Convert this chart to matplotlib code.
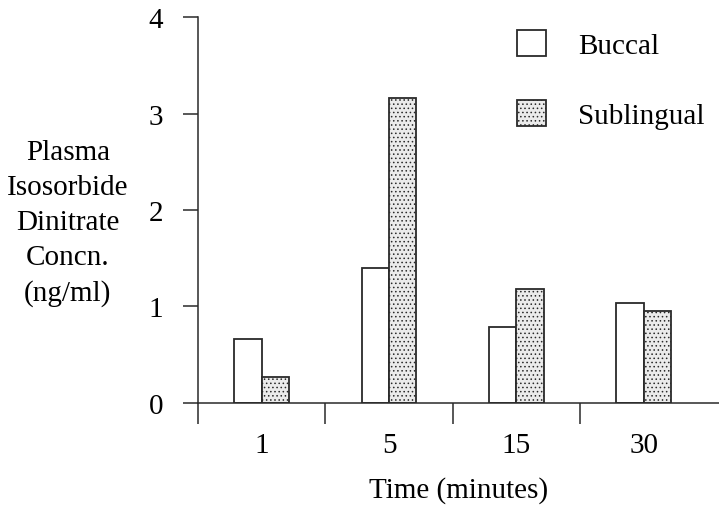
import numpy as np
import matplotlib
matplotlib.use("Agg")
from matplotlib import pyplot as plt
from matplotlib.patches import Patch

plt.rcParams['font.family'] = ['Liberation Serif', 'DejaVu Serif']
plt.rcParams['hatch.color'] = '#b8b8b8'
plt.rcParams['hatch.linewidth'] = 0.6

# Data
times = ["1", "5", "15", "30"]
buccal = [0.66, 1.40, 0.79, 1.04]
sublingual = [0.27, 3.16, 1.18, 0.95]

ink = '#2a2a2a'
fs = 21
fig = plt.figure(figsize=(7.19, 5.06), dpi=100)
ax = fig.add_axes([0.2754, 0.2016, 0.7246, 0.7628])

x = np.arange(len(times))
w = 0.215
ax.bar(x - w / 2, buccal, width=w, color='white', edgecolor=ink, linewidth=1.3)
ax.bar(x + w / 2, sublingual, width=w, color='#ebebeb', edgecolor=ink, linewidth=1.3, hatch='....')

ax.set_xlim(-0.5, 3.59)
ax.set_ylim(0, 4)

for side in ['top', 'right']:
    ax.spines[side].set_visible(False)
for side in ['left', 'bottom']:
    ax.spines[side].set_color(ink)
    ax.spines[side].set_linewidth(1.1)

ax.set_yticks([0, 1, 2, 3, 4])
ax.tick_params(axis='y', direction='out', length=11, width=1.1, color=ink, pad=14, labelsize=fs)

# group boundaries as major ticks, labels on minor ticks at the group centres
ax.set_xticks(x - 0.5)
ax.set_xticklabels([])
ax.set_xticks(x, minor=True)
ax.set_xticklabels(times, minor=True)
ax.tick_params(axis='x', which='major', direction='out', length=15, width=1.1, color=ink)
ax.tick_params(axis='x', which='minor', length=0, pad=21, labelsize=fs)

ax.set_xlabel("Time (minutes)", fontsize=fs, labelpad=13)
ax.set_ylabel("Plasma\nIsosorbide\nDinitrate\nConcn.\n(ng/ml)", fontsize=fs, rotation=0,
              ha='center', va='center', multialignment='center', linespacing=1.44)
ax.yaxis.set_label_coords(-0.25, 0.468)

handles = [Patch(facecolor='white', edgecolor=ink, linewidth=1.3),
           Patch(facecolor='#ebebeb', edgecolor=ink, linewidth=1.3, hatch='....')]
ax.legend(handles, ["Buccal", "Sublingual"], loc='upper left', bbox_to_anchor=(517 / 719, 1 - 31 / 506),
          bbox_transform=fig.transFigure, frameon=False, fontsize=fs, handlelength=1.0, handleheight=1.0,
          handletextpad=1.1, labelspacing=1.4, borderpad=0, borderaxespad=0)

fig.savefig("out.png")
